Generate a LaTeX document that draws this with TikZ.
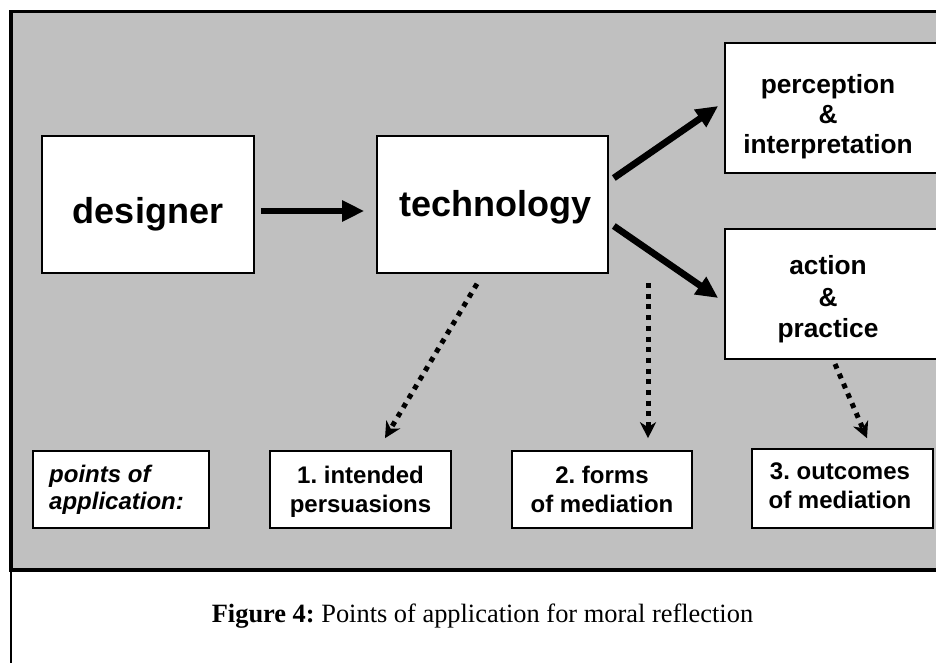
\documentclass[tikz,border=0pt]{standalone}
\usepackage{fontspec}
\setmainfont{Liberation Serif}
\newfontfamily\arialfont{Liberation Sans}
\usetikzlibrary{arrows.meta,calc}
\definecolor{panelgray}{HTML}{C0C0C0}
\newcommand\lnst{\vphantom{Agy}}
\frenchspacing
\begin{document}
\frenchspacing
\begin{tikzpicture}[x=1pt,y=-1pt,
  box/.style={draw=black,line width=1.6pt,fill=white,inner sep=0pt,rectangle},
  bigtxt/.style={font=\arialfont\bfseries\fontsize{36}{40}\selectfont,inner sep=0pt},
  midtxt/.style={font=\arialfont\bfseries\fontsize{26.3}{30}\selectfont,align=center,inner sep=0pt},
  smalltxt/.style={font=\arialfont\bfseries\fontsize{24}{29}\selectfont\frenchspacing,align=center,inner sep=0pt},
  solidarrow/.style={line width=6.7pt,-{Triangle[length=22pt,width=20pt]}},
  dotarrow/.style={line width=5pt,dash pattern=on 5pt off 5.7pt,-{Stealth[length=16pt,width=16pt,inset=5pt]}}
]
\useasboundingbox (0,0) rectangle (936,663);
\begin{scope}
\clip (0,0) rectangle (936,663);
% frame
\draw[fill=panelgray,line width=3.5pt] (11,11.5) rectangle (960,570);
\draw[line width=1.5pt] (11,570) -- (11,663);
% top boxes
\node[box,minimum width=212pt,minimum height=137pt] (designer) at (148,204.5) {};
\node[bigtxt,anchor=base] (designertxt) at (148,223) {designer};
\node[box,minimum width=231pt,minimum height=137pt] (tech) at (492.5,204.5) {};
\node[bigtxt,anchor=base] (techtxt) at (495.5,216) {technology};
\node[box,minimum width=230pt,minimum height=130pt] (perc) at (840,108) {};
\node[midtxt] (perctxt) at (828,117) {perception\lnst\\\&\lnst\\interpretation\lnst};
\node[box,minimum width=230pt,minimum height=130pt] (action) at (840,294) {};
\node[midtxt] (actiontxt) at (828,299.5) {action\lnst\\[1.5pt]\&\lnst\\[1.5pt]practice\lnst};
% bottom boxes
\node[box,minimum width=176pt,minimum height=77pt] (points) at (121,489.5) {};
\node[smalltxt,align=left,anchor=west,font=\arialfont\bfseries\itshape\fontsize{24}{27}\selectfont] (pointstxt) at (49,489.4) {points of\lnst\\application:\lnst};
\node[box,minimum width=181pt,minimum height=77pt] (intended) at (360.5,489.5) {};
\node[smalltxt] (intendedtxt) at (360.5,491.4) {1. intended\lnst\\persuasions\lnst};
\node[box,minimum width=180pt,minimum height=77pt] (forms) at (602,489.5) {};
\node[smalltxt] (formstxt) at (602,491.4) {2. forms\lnst\\of mediation\lnst};
\node[box,minimum width=181pt,minimum height=79pt] (outcomes) at (842.5,488.5) {};
\node[smalltxt] (outcomestxt) at (840,488.4) {3. outcomes\lnst\\of mediation\lnst};
% solid arrows
\coordinate (arrY) at (0,211);
\draw[solidarrow,shorten <=6pt,shorten >=12pt] (designer.east |- arrY) -- (tech.west |- arrY);
\coordinate (tpS) at ($(tech.east)+(5,-26.5)$);
\coordinate (tpE) at ($(perc.west)+(-6,-2)$);
\draw[solidarrow] (tpS) -- (tpE);
\coordinate (taS) at ($(tech.east)+(5,21.5)$);
\coordinate (taE) at ($(action.west)+(-6,4)$);
\draw[solidarrow] (taS) -- (taE);
% dotted arrows
\coordinate (d1S) at ($(tech.south)+(-15.5,10)$);
\coordinate (d1E) at ($(intended.north)+(24.5,-12)$);
\draw[dotarrow] (d1S) -- (d1E);
\coordinate (d2S) at (648,283);
\coordinate (d2E) at ($(forms.north)+(46,-12)$);
\draw[dotarrow] (d2S) -- (d2E);
\coordinate (d3S) at (835,364);
\coordinate (d3E) at ($(outcomes.north)+(24.5,-10)$);
\draw[dotarrow] (d3S) -- (d3E);
% caption
\node[anchor=base,inner sep=0pt,font=\fontsize{26.4}{30}\selectfont] (caption) at (482.5,622) {\textbf{Figure 4:} Points of application for moral reflection};
\end{scope}
\end{tikzpicture}
\end{document}
